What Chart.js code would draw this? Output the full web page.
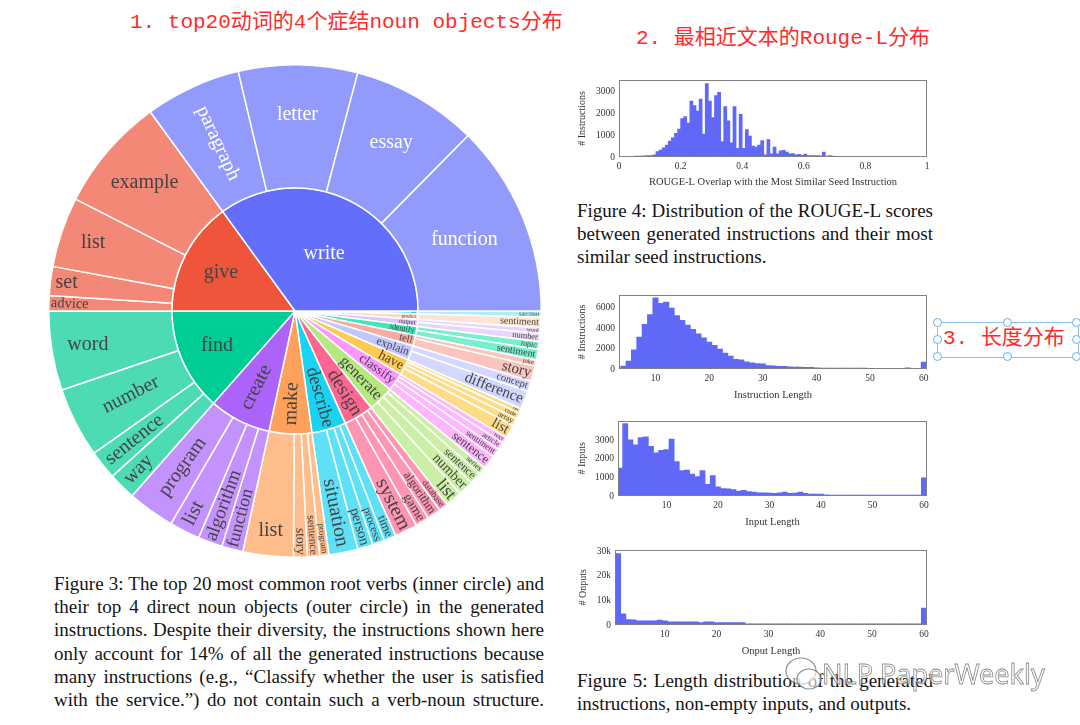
<!DOCTYPE html>
<html>
<head>
<meta charset="utf-8">
<script src="https://cdn.jsdelivr.net/npm/chart.js@4.4.1/dist/chart.umd.min.js"></script>
<style>
  body { margin: 0; background: #fff; }
  #page { position: relative; width: 1080px; height: 725px; overflow: hidden; background: #fff; }
  canvas { position: absolute; }
  .note { position: absolute; color: #ff2b2b; font-family: 'Liberation Mono', 'Noto Sans CJK SC', monospace; font-size: 21px; line-height: 26px; white-space: nowrap; }
  .cap { position: absolute; font-family: 'Liberation Serif', serif; font-size: 19px; line-height: 23.2px; color: #141414; }
  .cap span { display: inline-block; white-space: nowrap; }
  .handle { position: absolute; width: 7px; height: 7px; border-radius: 50%; background: #fff; border: 1.3px solid #63aee9; }
  .wm { position: absolute; font-family: 'Noto Sans', sans-serif; font-size: 27px; color: rgba(255,255,255,0.55); -webkit-text-stroke: 0.8px rgba(95,95,95,0.75); white-space: nowrap; }
</style>
</head>
<body>
<div id="page">
  <div class="note" style="left:130px; top:10px;">1. top20动词的4个症结noun objects分布</div>
  <div class="note" style="left:636px; top:26px;">2. 最相近文本的Rouge-L分布</div>

  <div style="position:absolute; left:937px; top:322px; width:140px; height:34px; border:1px solid #8cc3ee;"></div>
  <div class="handle" style="left:933px; top:318px;"></div>
  <div class="handle" style="left:1003px; top:318px;"></div>
  <div class="handle" style="left:1072px; top:318px;"></div>
  <div class="handle" style="left:933px; top:335px;"></div>
  <div class="handle" style="left:1072px; top:335px;"></div>
  <div class="handle" style="left:933px; top:352px;"></div>
  <div class="handle" style="left:1003px; top:352px;"></div>
  <div class="handle" style="left:1072px; top:352px;"></div>
  <div class="note" style="left:943px; top:326px;">3. 长度分布</div>

  <canvas id="sun" width="494" height="494" style="left:48px; top:64px;"></canvas>
  <canvas id="histRouge" width="359" height="119" style="left:576px; top:70px;"></canvas>
  <canvas id="histInstr" width="359" height="117" style="left:576px; top:285px;"></canvas>
  <canvas id="histInput" width="359" height="118" style="left:576px; top:411px;"></canvas>
  <canvas id="histOutput" width="358" height="118" style="left:577px; top:540px;"></canvas>

  <div class="cap" data-w="490" style="left:54px; top:572px;">
    <span class="j">Figure 3: The top 20 most common root verbs (inner circle) and</span><br>
    <span class="j">their top 4 direct noun objects (outer circle) in the generated</span><br>
    <span class="j">instructions. Despite their diversity, the instructions shown here</span><br>
    <span class="j">only account for 14% of all the generated instructions because</span><br>
    <span class="j">many instructions (e.g., “Classify whether the user is satisfied</span><br>
    <span class="j">with the service.”) do not contain such a verb-noun structure.</span>
  </div>
  <div class="cap" data-w="356" style="left:577px; top:199px;">
    <span class="j">Figure 4: Distribution of the ROUGE-L scores</span><br>
    <span class="j">between generated instructions and their most</span><br>
    <span>similar seed instructions.</span>
  </div>
  <div class="cap" data-w="356" style="left:577px; top:669px;">
    <span class="j">Figure 5: Length distribution of the generated</span><br>
    <span>instructions, non-empty inputs, and outputs.</span>
  </div>

  <svg style="position:absolute; left:782px; top:652px;" width="44" height="44">
    <ellipse cx="19" cy="19" rx="15" ry="13" fill="rgba(255,255,255,0.6)" stroke="rgba(95,95,95,0.7)" stroke-width="1.2"/>
    <ellipse cx="27" cy="27" rx="12" ry="10" fill="rgba(255,255,255,0.6)" stroke="rgba(95,95,95,0.7)" stroke-width="1.2"/>
  </svg>
  <div class="wm" style="left:822px; top:655px;">NLP PaperWeekly</div>
</div>

<script>
// ---- sunburst: root verbs (inner ring), clockwise from 3 o'clock, share of instructions in % ----
const verbs = ['use', 'predict', 'output', 'identify', 'tell', 'explain', 'have', 'classify',
  'generate', 'design', 'describe', 'make', 'create', 'find', 'give', 'write'];
const verbShare = [0.4, 0.7, 0.9, 1.2, 1.4, 1.9, 2.1, 2.4, 3.4, 3.9, 4.5, 5.6, 8.1, 13.5, 15, 35];
const verbColors = ['#8ae6f8', '#ffd9bd', '#e0c4fd', '#3ee8b8', '#f7aca0', '#c3c7fd', '#fecb52', '#ff97ff',
  '#b6e880', '#ff6692', '#19d3f3', '#ffa15a', '#ab63fa', '#00cc96', '#ef553b', '#636efa'];

// ---- their direct noun objects (outer ring), same order ----
const nounNames = [
  ['sarcasm'], ['sentiment'], ['word', 'number'], ['topic', 'sentiment'], ['joke', 'story'],
  ['concept', 'difference'], ['set', 'code', 'array', 'list'], ['text', 'article', 'sentiment', 'sentence'],
  ['series', 'sentence', 'number', 'list'], ['database', 'algorithm', 'game', 'system'],
  ['time', 'process', 'person', 'situation'], ['program', 'sentence', 'story', 'list'],
  ['function', 'algorithm', 'list', 'program'], ['way', 'sentence', 'number', 'word'],
  ['advice', 'set', 'list', 'example'], ['paragraph', 'letter', 'essay', 'function']
];
const nounShare = [
  [0.4], [0.7], [0.35, 0.55], [0.5, 0.7], [0.4, 1.0],
  [0.7, 1.2], [0.3, 0.4, 0.5, 0.9], [0.4, 0.5, 0.6, 0.9],
  [0.5, 0.8, 1.0, 1.1], [0.6, 0.9, 0.9, 1.5],
  [0.8, 0.8, 1.0, 1.9], [0.6, 0.8, 0.9, 3.3],
  [1.4, 1.6, 2.0, 3.1], [1.8, 1.9, 4.6, 5.2],
  [1.0, 1.9, 4.6, 7.5], [6.3, 7.8, 8.3, 12.6]
];

// ---- Figure 4: ROUGE-L overlap, bins of 0.01 from 0 to 1 ----
const rougeCounts = [
  0, 0, 0, 0, 30, 40, 40, 40, 50, 60,
  60, 100, 250, 320, 420, 540, 730, 880, 1080, 1270,
  1750, 1850, 1550, 2550, 2350, 2100, 2650, 1050, 3350, 2550,
  1800, 2800, 2950, 700, 2300, 1650, 650, 2300, 400, 1950,
  400, 1250, 950, 500, 450, 550, 750, 100, 800, 150,
  450, 150, 280, 300, 220, 150, 160, 100, 120, 80,
  130, 70, 60, 70, 60, 50, 220, 40, 60, 40,
  30, 0, 0, 0, 0, 0, 0, 0, 0, 0,
  0, 0, 0, 0, 0, 0, 0, 0, 0, 0,
  0, 0, 0, 0, 0, 0, 0, 0, 0, 0
];
const rougeTicksX = [0, 0.2, 0.4, 0.6, 0.8, 1];
const rougeTicksY = [0, 1000, 2000, 3000];

// ---- Figure 5: instruction length, one bin per word count from 4 to 60 ----
const instrCounts = [
  280, 780, 1870, 3120, 4370, 5310, 6940, 6400, 6530, 5940,
  5220, 4750, 4280, 3870, 3440, 3030, 2620, 2310, 1940, 1560,
  1250, 940, 900, 690, 600, 530, 500, 340, 310, 250,
  250, 220, 190, 190, 160, 160, 125, 100, 100, 95,
  90, 90, 85, 80, 80, 80, 75, 75, 70, 70,
  20, 20, 20, 110, 20, 20, 680
];
const instrTicksY = [0, 2000, 4000, 6000];

// input length, word counts 1 to 60
const inputCounts = [
  1500, 3880, 3010, 2750, 3130, 3180, 2660, 2310, 2450, 2490,
  3060, 1840, 1360, 1390, 1180, 1040, 1360, 630, 1100, 490,
  400, 380, 350, 260, 310, 240, 210, 170, 170, 160,
  140, 170, 210, 140, 160, 210, 140, 100, 100, 100,
  60, 55, 55, 50, 50, 50, 50, 45, 50, 50,
  45, 50, 50, 45, 50, 45, 45, 50, 45, 975
];
const inputTicksY = [0, 1000, 2000, 3000];

// output length, word counts 1 to 60
const outputCounts = [
  29000, 4500, 2200, 2100, 1700, 1700, 1700, 1700, 2000, 1700,
  1300, 1300, 1300, 1300, 1300, 1300, 1000, 1300, 1300, 1000,
  1000, 1000, 1000, 1000, 1000, 500, 500, 500, 500, 500,
  500, 500, 500, 500, 500, 480, 480, 480, 480, 480,
  480, 460, 460, 460, 460, 460, 460, 450, 450, 450,
  450, 450, 440, 440, 440, 440, 440, 440, 440, 6900
];
const outputTicksY = [0, 10000, 20000, 30000];

const lengthTicksX = [10, 20, 30, 40, 50, 60];

// ---------------------------------------------------------------
const serif = "'Liberation Serif', 'Times New Roman', serif";

function tint(hex, amt) {
  const n = parseInt(hex.slice(1), 16);
  const ch = [n >> 16, (n >> 8) & 255, n & 255].map(c => Math.round(c + (255 - c) * amt));
  return 'rgb(' + ch.join(',') + ')';
}
function brightness(hex) {
  const n = parseInt(hex.slice(1), 16);
  return ((n >> 16) * 299 + ((n >> 8) & 255) * 587 + (n & 255) * 114) / 1000;
}

const outerNames = [], outerValues = [], outerColors = [], outerText = [];
nounNames.forEach((list, vi) => {
  list.forEach((name, k) => {
    outerNames.push(name);
    outerValues.push(nounShare[vi][k]);
    outerColors.push(tint(verbColors[vi], 0.3));
    outerText.push(brightness(verbColors[vi]) < 128 ? '#fff' : '#444');
  });
});
const innerText = verbColors.map(c => brightness(c) < 128 ? '#fff' : '#444');

// place a label inside an arc, roughly the way plotly does for sunbursts
function drawArcLabel(ctx, text, p, color) {
  const base = 20, pad = 2;
  ctx.font = base + 'px ' + serif;
  const wPer = ctx.measureText(text).width / base;
  const half = (p.endAngle - p.startAngle) / 2;
  const mid = p.startAngle + half;
  const r0 = p.innerRadius, R = p.outerRadius - pad;

  // horizontal: text inscribed in the biggest circle that fits the slice
  let bestD = 0, bestRho = 0;
  for (let k = 0; k <= 300; k++) {
    const d = r0 + (R - r0) * k / 300;
    const side = half < Math.PI / 2 ? d * Math.sin(half) : d;
    const rho = Math.min(side, R - d, d - r0);
    if (rho >= bestRho) { bestRho = rho; bestD = d; }
  }
  const hScale = 2 * bestRho / Math.hypot(wPer * base, 0.8 * base);

  // radial: biggest font that fits pushed to the outer edge
  const fit = f => {
    const l = wPer * f / 2, t = 0.45 * f;
    const lo = Math.max(l + t / Math.tan(Math.min(half, 1.55)), r0 + pad + l);
    const hi = Math.sqrt(Math.max(R * R - t * t, 0)) - l;
    return lo <= hi ? hi : null;
  };
  let a = 0.5, b = 400;
  for (let i = 0; i < 40; i++) {
    const m = (a + b) / 2;
    if (fit(m) !== null) a = m; else b = m;
  }
  const fMax = a, rCenter = fit(a) || (r0 + R) / 2;
  const rScale = fMax / base;

  let size, dist, rot;
  if (hScale >= 1 || hScale >= rScale) {
    size = base * Math.min(1, hScale);
    dist = bestD;
    rot = 0;
  } else {
    size = Math.min(fMax, base);
    dist = rCenter;
    rot = Math.cos(mid) < 0 ? mid + Math.PI : mid;
  }
  if (size < 2) return;
  ctx.save();
  ctx.translate(p.x + dist * Math.cos(mid), p.y + dist * Math.sin(mid));
  ctx.rotate(rot);
  ctx.font = size + 'px ' + serif;
  ctx.fillStyle = color;
  ctx.textAlign = 'center';
  ctx.textBaseline = 'middle';
  ctx.fillText(text, 0, 0);
  ctx.restore();
}

const arcLabels = {
  id: 'arcLabels',
  afterDatasetsDraw(chart) {
    const ctx = chart.ctx;
    chart.data.datasets.forEach((ds, di) => {
      chart.getDatasetMeta(di).data.forEach((arc, i) => {
        const p = arc.getProps(['x', 'y', 'startAngle', 'endAngle', 'innerRadius', 'outerRadius'], true);
        drawArcLabel(ctx, ds.names[i], p, ds.textColors[i]);
      });
    });
  }
};

new Chart(document.getElementById('sun'), {
  type: 'doughnut',
  data: {
    labels: outerNames,
    datasets: [
      { data: outerValues, backgroundColor: outerColors, borderColor: '#fff', borderWidth: 1.5,
        names: outerNames, textColors: outerText },
      { data: verbShare, backgroundColor: verbColors, borderColor: '#fff', borderWidth: 1.5,
        names: verbs, textColors: innerText }
    ]
  },
  options: {
    responsive: false,
    animation: false,
    rotation: 90,
    cutout: 0,
    layout: { padding: 0 },
    plugins: { legend: { display: false }, tooltip: { enabled: false } }
  },
  plugins: [arcLabels]
});

// ---- histograms ----
const frame = {
  id: 'frame',
  afterDraw(chart) {
    const { ctx, chartArea: a } = chart;
    ctx.save();
    ctx.strokeStyle = '#808080';
    ctx.lineWidth = 1;
    ctx.strokeRect(Math.round(a.left) + 0.5, Math.round(a.top) + 0.5,
      Math.round(a.right - a.left) - 1, Math.round(a.bottom - a.top) - 1);
    ctx.restore();
  }
};

function makeHist(cfg) {
  const points = cfg.counts.map((c, i) => ({ x: cfg.firstBin + i * cfg.binWidth, y: c }));
  new Chart(document.getElementById(cfg.id), {
    type: 'bar',
    data: {
      datasets: [{ data: points, backgroundColor: '#6068f8', borderWidth: 0,
        barPercentage: 1, categoryPercentage: 1 }]
    },
    options: {
      responsive: false,
      animation: false,
      layout: { padding: { top: 7, right: cfg.padRight, left: 0, bottom: 0 } },
      plugins: { legend: { display: false }, tooltip: { enabled: false } },
      scales: {
        x: {
          type: 'linear', offset: false, min: cfg.xMin, max: cfg.xMax,
          afterBuildTicks: ax => { ax.ticks = cfg.xTicks.map(v => ({ value: v })); },
          afterFit: ax => { ax.height = cfg.xAxisH; },
          grid: { display: false, drawTicks: false },
          border: { display: false },
          ticks: { padding: 4, maxRotation: 0, autoSkip: false, color: '#333',
            font: { family: serif, size: 9.5 }, callback: v => String(v) },
          title: { display: true, text: cfg.xTitle, color: '#333', padding: 0,
            font: { family: serif, size: 10.5 } }
        },
        y: {
          min: 0, max: cfg.yMax,
          afterBuildTicks: ax => { ax.ticks = cfg.yTicks.map(v => ({ value: v })); },
          afterFit: ax => { ax.width = cfg.yAxisW; },
          grid: { display: false, drawTicks: false },
          border: { display: false },
          ticks: { padding: 4, color: '#333', font: { family: serif, size: 9.5 },
            callback: cfg.yFormat || (v => String(v)) },
          title: { display: true, text: cfg.yTitle, color: '#333', padding: 0,
            font: { family: serif, size: 10 } }
        }
      }
    },
    plugins: [frame]
  });
}

makeHist({ id: 'histRouge', counts: rougeCounts, firstBin: 0.005, binWidth: 0.01,
  xMin: 0, xMax: 1, xTicks: rougeTicksX, yMax: 3530, yTicks: rougeTicksY,
  xTitle: 'ROUGE-L Overlap with the Most Similar Seed Instruction', yTitle: '# Instructions',
  yAxisW: 43, xAxisH: 32, padRight: 8 });

makeHist({ id: 'histInstr', counts: instrCounts, firstBin: 4, binWidth: 1,
  xMin: 3.2, xMax: 60.6, xTicks: lengthTicksX, yMax: 7250, yTicks: instrTicksY,
  xTitle: 'Instruction Length', yTitle: '# Instructions',
  yAxisW: 43, xAxisH: 33, padRight: 8 });

makeHist({ id: 'histInput', counts: inputCounts, firstBin: 1, binWidth: 1,
  xMin: 0.6, xMax: 60.6, xTicks: lengthTicksX, yMax: 4040, yTicks: inputTicksY,
  xTitle: 'Input Length', yTitle: '# Inputs',
  yAxisW: 42, xAxisH: 33, padRight: 8 });

makeHist({ id: 'histOutput', counts: outputCounts, firstBin: 1, binWidth: 1,
  xMin: 0.4, xMax: 60.6, xTicks: lengthTicksX, yMax: 30600, yTicks: outputTicksY,
  xTitle: 'Onput Length', yTitle: '# Onputs',
  yAxisW: 38, xAxisH: 33, padRight: 8,
  yFormat: v => v === 0 ? '0' : (v / 1000) + 'k' });

// ---- justify caption lines to the column width ----
document.querySelectorAll('.cap').forEach(cap => {
  const target = parseFloat(cap.dataset.w);
  cap.querySelectorAll('.j').forEach(el => {
    const natural = el.getBoundingClientRect().width;
    const spaces = (el.textContent.match(/ /g) || []).length;
    if (spaces) el.style.wordSpacing = ((target - natural) / spaces) + 'px';
  });
});
</script>
</body>
</html>
